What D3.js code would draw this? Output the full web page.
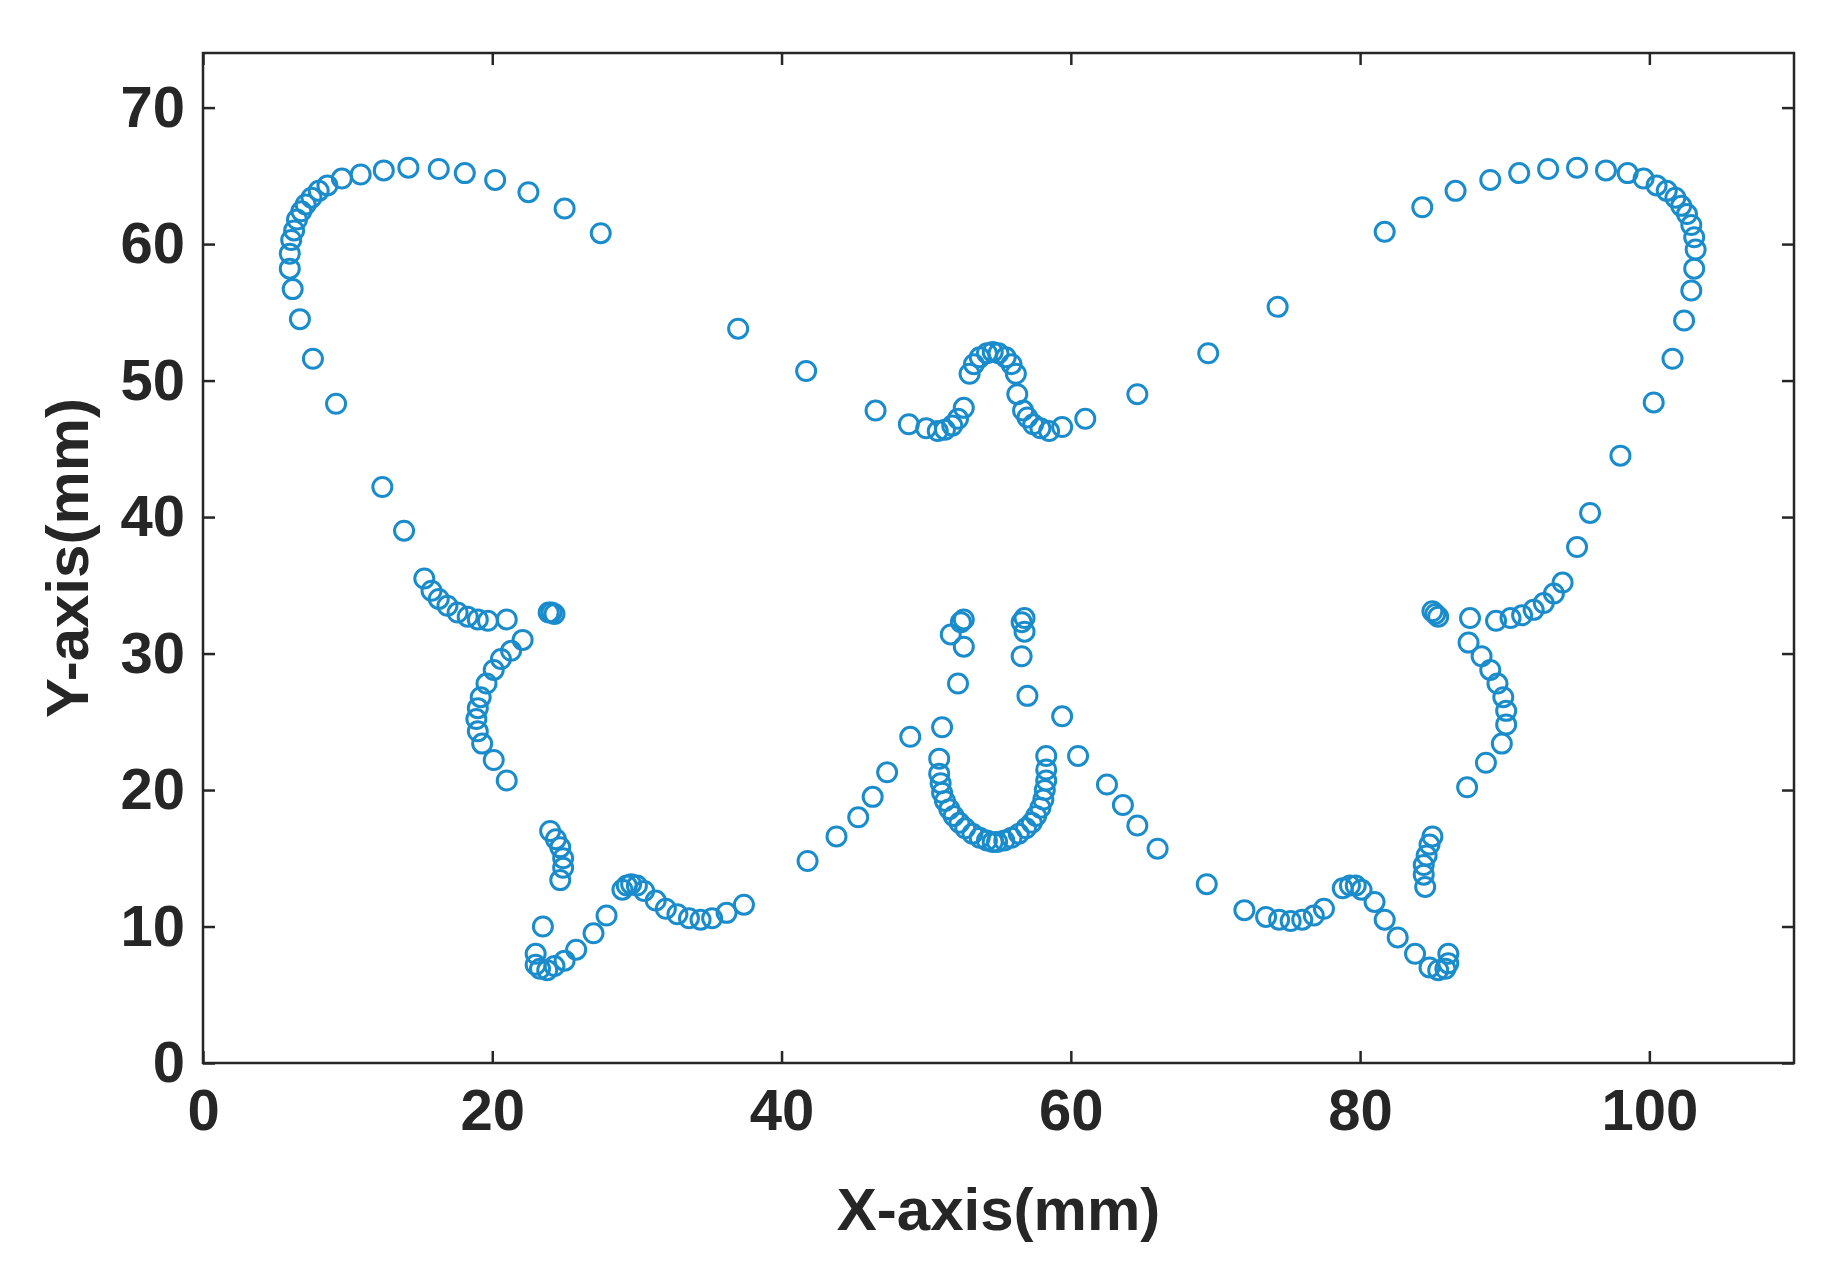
<!DOCTYPE html>
<html><head><meta charset="utf-8">
<script src="https://cdn.jsdelivr.net/npm/d3@7"></script>
<style>body{margin:0;background:#fff}</style></head>
<body><svg id="chart"></svg>
<script>
// tick values
const xTicks = [0, 20, 40, 60, 80, 100];
const yTicks = [0, 10, 20, 30, 40, 50, 60, 70];

// measured points, grouped by part of the butterfly
const leftWing = [[27.5,60.8],[25.0,62.6],[22.5,63.8],[20.2,64.7],[18.1,65.2],[16.3,65.5],[14.2,65.6],[12.5,65.4],[10.9,65.1],[9.6,64.8],[8.6,64.3],[8.0,63.9],[7.5,63.4],[7.1,62.9],[6.8,62.4],[6.5,61.8],[6.3,61.0],[6.1,60.3],[6.0,59.3],[6.0,58.2],[6.2,56.7],[6.7,54.5],[7.6,51.6],[9.2,48.3],[12.4,42.2],[13.9,39.0],[15.3,35.5],[15.8,34.6],[16.3,34.0],[16.9,33.5],[17.6,33.0],[18.3,32.7],[19.0,32.5],[19.7,32.4],[21.0,32.5],[22.1,31.0],[21.3,30.2],[20.6,29.6],[20.1,28.8],[19.6,27.8],[19.2,26.8],[19.0,26.0],[18.9,25.2],[19.0,24.3],[19.3,23.4],[20.1,22.2],[21.0,20.7],[23.9,33.0],[24.1,33.0],[24.3,32.9]];
const leftTail = [[24.0,17.0],[24.4,16.4],[24.7,15.8],[24.9,15.0],[24.9,14.3],[24.7,13.4],[23.5,10.0],[23.0,8.0],[23.0,7.2],[23.3,6.9],[23.8,6.8],[24.3,7.1],[25.0,7.5],[25.8,8.3],[27.0,9.5],[27.9,10.8],[29.0,12.7],[29.3,13.0],[29.6,13.1],[30.0,13.0],[30.5,12.6],[31.3,11.9],[32.0,11.3],[32.8,10.9],[33.6,10.6],[34.4,10.5],[35.2,10.6],[36.2,11.0],[37.4,11.6]];
const leftBody = [[41.8,14.8],[43.8,16.6],[45.3,18.0],[46.3,19.5],[47.3,21.3],[48.9,23.9],[51.1,24.6],[52.2,27.8],[52.6,30.5],[51.7,31.4],[52.4,32.3],[52.6,32.5],[50.9,22.3],[50.9,21.2],[51.0,20.5],[51.1,19.8],[51.3,19.2],[51.6,18.6],[51.9,18.1],[52.3,17.6],[52.7,17.2],[53.2,16.8],[53.7,16.5],[54.2,16.3],[54.6,16.2]];
const head = [[37.0,53.8],[41.7,50.7],[46.5,47.8],[48.8,46.8],[50.0,46.5],[50.8,46.3],[51.3,46.4],[51.8,46.7],[52.2,47.2],[52.6,48.0],[53.0,50.5],[53.3,51.2],[53.7,51.7],[54.2,52.0],[54.6,52.1],[55.0,52.0],[55.5,51.7],[55.9,51.2],[56.2,50.5],[56.3,49.0],[56.7,47.8],[57.0,47.3],[57.4,46.8],[57.9,46.5],[58.5,46.3],[59.4,46.6],[61.0,47.2],[64.6,49.0],[69.5,52.0],[74.3,55.4]];
const rightWing = [[81.7,60.9],[84.3,62.7],[86.6,63.9],[89.0,64.7],[91.0,65.2],[93.0,65.5],[95.0,65.6],[97.0,65.4],[98.5,65.2],[99.6,64.8],[100.5,64.3],[101.2,63.9],[101.8,63.4],[102.2,62.8],[102.6,62.2],[102.9,61.4],[103.1,60.5],[103.2,59.6],[103.1,58.2],[102.9,56.6],[102.4,54.4],[101.6,51.6],[100.3,48.4],[98.0,44.5],[95.9,40.3],[95.0,37.8],[94.0,35.2],[93.4,34.4],[92.7,33.7],[92.0,33.2],[91.2,32.8],[90.4,32.6],[89.4,32.4],[87.6,32.6],[87.5,30.8],[88.4,29.8],[89.0,28.8],[89.5,27.8],[89.9,26.8],[90.1,25.8],[90.1,24.8],[89.8,23.4],[88.7,22.0],[87.4,20.2],[85.0,33.1],[85.2,32.9],[85.4,32.7]];
const rightTail = [[85.0,16.6],[84.8,16.0],[84.6,15.2],[84.4,14.5],[84.4,13.8],[84.5,12.9],[86.1,8.0],[86.1,7.3],[85.9,6.9],[85.4,6.8],[84.8,7.0],[83.8,8.0],[82.6,9.2],[81.7,10.5],[81.0,11.8],[80.1,12.7],[79.7,13.0],[79.3,13.0],[78.8,12.8],[77.5,11.3],[76.8,10.8],[76.0,10.5],[75.2,10.4],[74.4,10.5],[73.5,10.7],[72.0,11.2]];
const rightBody = [[69.4,13.1],[66.0,15.7],[64.6,17.4],[63.6,18.9],[62.5,20.4],[60.5,22.5],[59.4,25.4],[57.0,26.9],[56.6,29.8],[56.8,31.6],[56.6,32.3],[56.8,32.6],[54.9,16.2],[55.4,16.3],[55.9,16.5],[56.4,16.8],[56.9,17.2],[57.3,17.6],[57.6,18.1],[57.9,18.7],[58.1,19.3],[58.2,20.0],[58.3,20.7],[58.3,21.5],[58.3,22.5]];

const points = [].concat(leftWing, leftTail, leftBody, head, rightWing, rightTail, rightBody);

const W = 1833, H = 1271;
const m = {left: 203, right: 39, top: 53, bottom: 208};
const svg = d3.select('#chart').attr('width', W).attr('height', H);

const x = d3.scaleLinear().domain([0, 110]).range([m.left, W - m.right]);
const y = d3.scaleLinear().domain([0, 74]).range([H - m.bottom, m.top]);

const font = '"Liberation Sans Narrow", "Arial Narrow", Arial, sans-serif';
const axisColor = '#262626';

// box
svg.append('rect')
  .attr('x', m.left).attr('y', m.top)
  .attr('width', W - m.left - m.right).attr('height', H - m.top - m.bottom)
  .attr('fill', 'none').attr('stroke', axisColor).attr('stroke-width', 2.5);

const styleAxis = g => {
  g.select('.domain').remove();
  g.selectAll('line').attr('stroke', axisColor).attr('stroke-width', 2.5);
  g.selectAll('text').attr('fill', axisColor).style('font', `bold 58px ${font}`);
};

svg.append('g').attr('transform', `translate(0,${H - m.bottom})`)
  .call(d3.axisBottom(x).tickValues(xTicks).tickSize(-12).tickPadding(26))
  .call(styleAxis);
svg.append('g').attr('transform', `translate(0,${m.top})`)
  .call(d3.axisTop(x).tickValues(xTicks).tickSize(-12).tickFormat(''))
  .call(styleAxis);
svg.append('g').attr('transform', `translate(${m.left},0)`)
  .call(d3.axisLeft(y).tickValues(yTicks).tickSize(-12).tickPadding(18))
  .call(styleAxis);
svg.append('g').attr('transform', `translate(${W - m.right},0)`)
  .call(d3.axisRight(y).tickValues(yTicks).tickSize(-12).tickFormat(''))
  .call(styleAxis);

svg.append('text')
  .attr('x', (m.left + W - m.right) / 2).attr('y', 1230)
  .attr('text-anchor', 'middle').attr('fill', axisColor)
  .style('font', `bold 60px ${font}`).text('X-axis(mm)');
svg.append('text')
  .attr('transform', `translate(88,${(m.top + H - m.bottom) / 2}) rotate(-90)`)
  .attr('text-anchor', 'middle').attr('fill', axisColor)
  .style('font', `bold 60px ${font}`).text('Y-axis(mm)');

svg.append('g').selectAll('circle')
  .data(points)
  .join('circle')
    .attr('cx', d => x(d[0]))
    .attr('cy', d => y(d[1]))
    .attr('r', 9.5)
    .attr('fill', 'none')
    .attr('stroke', '#1a8ccc')
    .attr('stroke-width', 3);
</script>
</body></html>
